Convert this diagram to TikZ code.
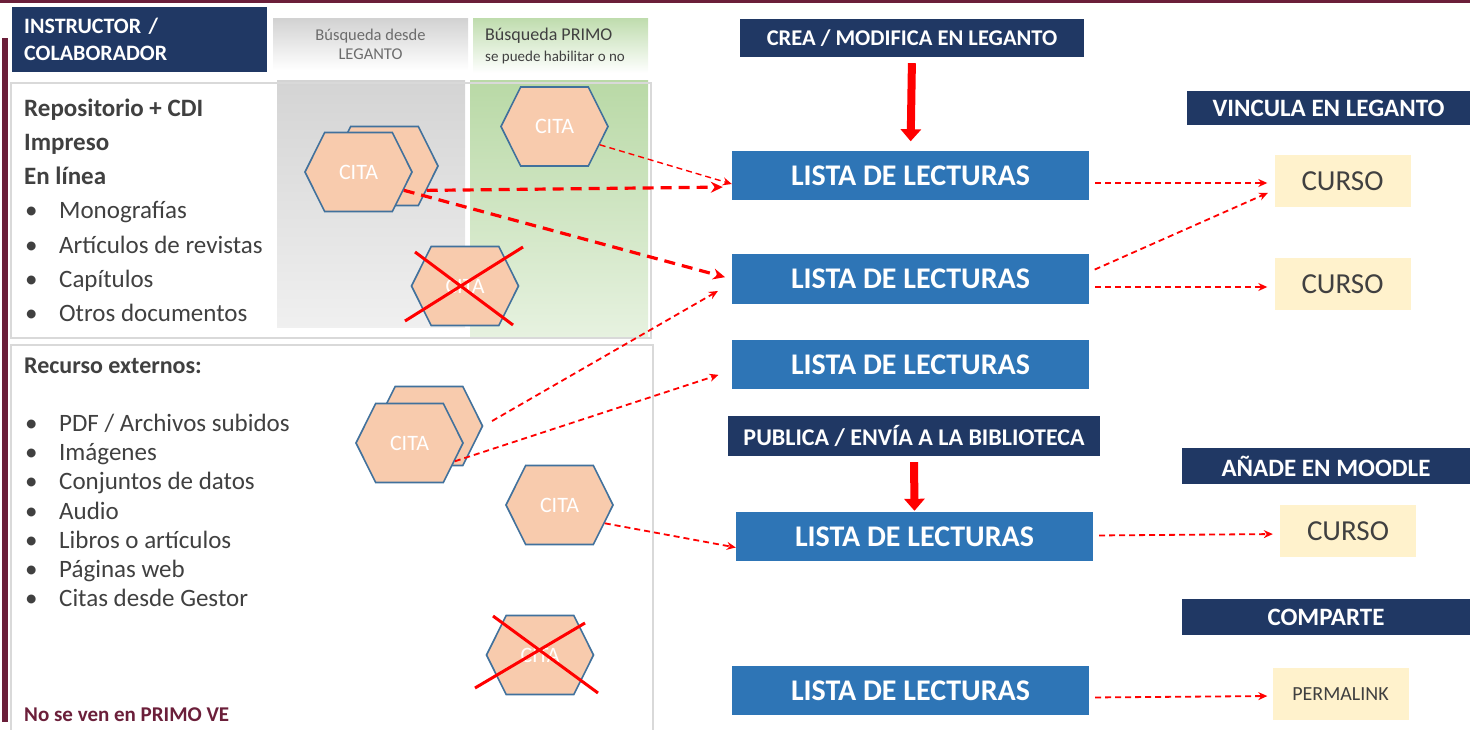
\documentclass[tikz,border=0pt]{standalone}
\usepackage{fontspec}
\setmainfont{Carlito}
\usetikzlibrary{shapes.symbols,arrows.meta,positioning}

\definecolor{maroon}{HTML}{6B1F3A}
\definecolor{navy}{HTML}{203864}
\definecolor{listblue}{HTML}{2E75B6}
\definecolor{peach}{HTML}{F8CBAD}
\definecolor{hexline}{HTML}{41719C}
\definecolor{cream}{HTML}{FFF2CC}
\definecolor{txtgray}{HTML}{404040}
\definecolor{colgreen}{HTML}{B9D9A6}
\definecolor{colgray}{HTML}{D4D4D4}

\newcommand{\bul}{\makebox[35pt][l]{\hspace{1pt}\textbullet}}

\tikzset{
  header/.style={fill=navy, text=white, font=\bfseries\fontsize{25}{28}\selectfont, inner sep=0pt},
  lista/.style={fill=listblue, text=white, font=\bfseries\fontsize{30}{33}\selectfont,
    minimum width=357pt, minimum height=49pt, inner sep=0pt},
  curso/.style={fill=cream, text=txtgray, font=\fontsize{29}{32}\selectfont,
    minimum width=136pt, minimum height=52pt, inner sep=0pt},
  cita/.style={signal, signal to=east and west, signal from=nowhere, signal pointer angle=127,
    fill=peach, draw=hexline, line width=1.6pt, text=white, font=\fontsize{22}{24}\selectfont,
    minimum width=107pt, minimum height=79pt, inner sep=0pt},
  cross/.style={red, line width=3pt},
  link/.style={red, dash pattern=on 6pt off 4pt, line width=1.8pt, -{Stealth[length=9pt,width=8pt]}},
  biglink/.style={red, dash pattern=on 11pt off 7pt, line width=3.2pt, -{Stealth[length=12pt,width=11pt]}},
  bigarrow/.style={red, line width=8pt, -{Triangle[length=12pt,width=20pt]}},
  frame/.style={draw=gray!30, line width=2pt},
  listtext/.style={text=txtgray, align=left, inner sep=0pt}
}

\begin{document}
\begin{tikzpicture}[x=1pt,y=-1pt]
  \useasboundingbox (0,0) rectangle (1470,730);

  % marco lateral
  \fill[maroon] (0,0) rectangle (1470,3.5);
  \fill[maroon] (2,38) rectangle (7.5,722);

  % columnas de busqueda
  \shade[top color=colgray, bottom color=gray!12] (277,81) rectangle (465,327);
  \shade[top color=colgreen, bottom color=colgreen!35!white] (470,81) rectangle (648,337);
  \draw[frame] (11,83) rectangle (651,338);
  \draw[frame] (11,345) rectangle (653,740);

  % cabeceras izquierda
  \node[header, anchor=north west, minimum width=255pt, minimum height=65pt, align=left,
    text width=231pt, font=\bfseries\fontsize{22}{27}\selectfont] (instructor) at (12,7)
    {INSTRUCTOR /\\COLABORADOR};
  \node[top color=gray!35, bottom color=white, minimum width=195pt, minimum height=51pt,
    inner sep=0pt, text=gray!85!black, align=center, font=\fontsize{16.5}{19}\selectfont] (leganto)
    at (370.5,44.5) {Búsqueda desde\\LEGANTO};
  \node[top color=colgreen!90, bottom color=white, minimum width=175pt, minimum height=54pt,
    inner sep=0pt] (primo) at (560.5,46) {};
  \node[anchor=west, text=txtgray, font=\fontsize{18}{20}\selectfont, inner sep=0pt] (primotxt)
    at (485,36) {Búsqueda PRIMO};
  \node[anchor=west, text=txtgray, font=\fontsize{15}{17}\selectfont, inner sep=0pt] (habilitar)
    at (485,58) {se puede habilitar o no};

  % textos de recursos
  \node[listtext, anchor=north west, font=\fontsize{25}{34.2}\selectfont] (repo) at (24,98.5)
    {\textbf{Repositorio + CDI}\\\textbf{Impreso}\\\textbf{En línea}\\\bul Monografías\\
     \bul Artículos de revistas\\\bul Capítulos\\\bul Otros documentos};
  \node[listtext, anchor=west, font=\bfseries\fontsize{24}{27}\selectfont] (externos) at (24,366)
    {Recurso externos:};
  \node[listtext, anchor=north west, font=\fontsize{25}{29.2}\selectfont] (recursos) at (24,414)
    {\bul PDF / Archivos subidos\\\bul Imágenes\\\bul Conjuntos de datos\\\bul Audio\\
     \bul Libros o artículos\\\bul Páginas web\\\bul Citas desde Gestor};
  \node[listtext, anchor=west, text=maroon, font=\bfseries\fontsize{21}{24}\selectfont] (noprimo)
    at (24,715) {No se ven en PRIMO VE};

  % citas
  \node[cita] (citaLb) at (384.5,166) {};
  \node[cita] (citaLa) at (358.5,172) {CITA};
  \node[cita] (citaP) at (554.5,126.5) {CITA};
  \node[cita] (citaX1) at (465,286) {CITA};
  \draw[cross] ([shift={(-60,35)}]citaX1.center) -- ([shift={(58,-39)}]citaX1.center);
  \draw[cross] ([shift={(-50,-34)}]citaX1.center) -- ([shift={(48,39)}]citaX1.center);
  \node[cita] (citaEb) at (429,426) {};
  \node[cita] (citaEa) at (409.5,443) {CITA};
  \node[cita] (citaE2) at (559.5,505) {CITA};
  \node[cita] (citaX2) at (540,655) {CITA};
  \draw[cross] ([shift={(-65,33)}]citaX2.center) -- ([shift={(45,-32)}]citaX2.center);
  \draw[cross] ([shift={(-47,-39)}]citaX2.center) -- ([shift={(58,38)}]citaX2.center);

  % acciones
  \node[header, minimum width=344pt, minimum height=38pt, font=\bfseries\fontsize{22.5}{26}\selectfont]
    (crea) at (912,38) {CREA / MODIFICA EN LEGANTO};
  \node[header, minimum width=283pt, minimum height=34pt] (vincula) at (1328.5,108)
    {VINCULA EN LEGANTO};
  \node[header, minimum width=372pt, minimum height=40pt, font=\bfseries\fontsize{24}{27}\selectfont]
    (publica) at (914,436) {PUBLICA / ENVÍA A LA BIBLIOTECA};
  \node[header, minimum width=288pt, minimum height=36pt] (anade) at (1326,466)
    {AÑADE EN MOODLE};
  \node[header, minimum width=288pt, minimum height=36pt] (comparte) at (1326,617)
    {COMPARTE};

  \node[lista] (lista1) at (910.5,176) {LISTA DE LECTURAS};
  \node[lista] (lista2) at (910.5,279) {LISTA DE LECTURAS};
  \node[lista] (lista3) at (910.5,364.5) {LISTA DE LECTURAS};
  \node[lista] (lista4) at (914.5,536.5) {LISTA DE LECTURAS};
  \node[lista] (lista5) at (910.5,690.5) {LISTA DE LECTURAS};

  \node[curso] (curso1) at (1342.5,181) {CURSO};
  \node[curso] (curso2) at (1342.5,284) {CURSO};
  \node[curso] (curso3) at (1348,531) {CURSO};
  \node[curso, font=\fontsize{20}{22}\selectfont] (permalink) at (1340.5,694) {PERMALINK};

  % flechas
  \draw[bigarrow, shorten <=6pt, shorten >=10pt] (crea.south) -- (lista1.north);
  \draw[bigarrow, shorten <=6pt, shorten >=1pt] (publica.south) -- (lista4.north);

  \draw[link, line width=1.4pt] (citaP.-22) -- ([yshift=-8pt]lista1.west);
  \draw[biglink, shorten >=9pt] (citaLb.-30) -- ([yshift=-11pt]lista1.west);
  \draw[biglink, shorten >=7pt] (citaLa.-22) -- (lista2.west);
  \draw[link, shorten <=10pt, shorten >=16pt] (citaEb.east) -- ([yshift=-4pt]lista2.west);
  \draw[link, shorten >=14pt] (citaEa.-22) -- ([yshift=-6pt]lista3.west);
  \draw[link] (citaE2.-22) -- ([yshift=-11pt]lista4.west);

  \draw[link, shorten <=6pt, shorten >=7pt] ([yshift=-7pt]lista1.east) -- ([yshift=-2pt]curso1.west);
  \draw[link, shorten <=6pt, shorten >=7pt] ([yshift=7pt]lista2.east) -- ([yshift=-9pt]curso1.west);
  \draw[link, shorten <=6pt, shorten >=7pt] ([yshift=-8pt]lista2.east) -- ([yshift=-3pt]curso2.west);
  \draw[link, shorten <=6pt, shorten >=7pt] ([yshift=1pt]lista4.east) -- ([yshift=-3pt]curso3.west);
  \draw[link, shorten <=6pt, shorten >=5pt] ([yshift=-7pt]lista5.east) -- ([yshift=-2pt]permalink.west);
\end{tikzpicture}
\end{document}
